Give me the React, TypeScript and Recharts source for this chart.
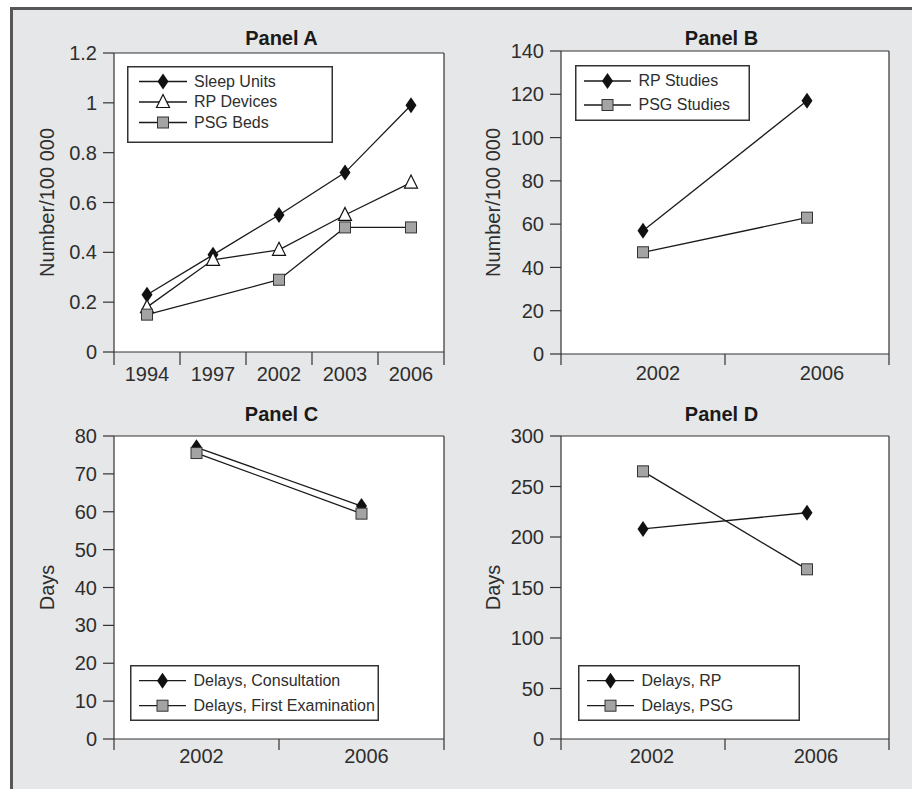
import React from 'react';
import { LineChart, Line, XAxis, YAxis, CartesianGrid, Legend } from 'recharts';

const FONT = '"Liberation Sans", Arial, Helvetica, sans-serif';
const INK = '#1a1a1a';
const TEXT = '#2e2e2e';

// Panel A
const yearsA = ['1994', '1997', '2002', '2003', '2006'];
const sleepUnits = [0.23, 0.39, 0.55, 0.72, 0.99];
const rpDevices = [0.18, 0.37, 0.41, 0.55, 0.68];
const psgBeds = [0.15, null, 0.29, 0.5, 0.5];
const yTicksA = [0, 0.2, 0.4, 0.6, 0.8, 1, 1.2];

// Panel B
const yearsB = ['2002', '2006'];
const rpStudies = [57, 117];
const psgStudies = [47, 63];
const yTicksB = [0, 20, 40, 60, 80, 100, 120, 140];

// Panel C
const yearsC = ['2002', '2006'];
const delaysConsultation = [77, 61.5];
const delaysFirstExam = [75.5, 59.5];
const yTicksC = [0, 10, 20, 30, 40, 50, 60, 70, 80];

// Panel D
const yearsD = ['2002', '2006'];
const delaysRP = [208, 224];
const delaysPSG = [265, 168];
const yTicksD = [0, 50, 100, 150, 200, 250, 300];

type Shape = 'diamond' | 'triangle' | 'square';

const Glyph = ({ shape, cx, cy }: { shape: Shape; cx: number; cy: number }) => {
    if (shape === 'diamond') {
        return <path d={`M${cx},${cy - 8} L${cx + 5.5},${cy} L${cx},${cy + 8} L${cx - 5.5},${cy} Z`} fill="#111" />;
    }
    if (shape === 'triangle') {
        return (
            <path
                d={`M${cx},${cy - 7.5} L${cx + 6.5},${cy + 5.5} L${cx - 6.5},${cy + 5.5} Z`}
                fill="#fff"
                stroke="#111"
                strokeWidth={1.2}
            />
        );
    }
    return <rect x={cx - 5.5} y={cy - 5.5} width={11} height={11} fill="#a4a4a4" stroke="#333" strokeWidth={1} />;
};

const dotFor = (shape: Shape) => (p: any) => {
    if (p.cy == null || p.value == null) return <g key={`d${p.index}`} />;
    return (
        <g key={`d${p.index}`}>
            <Glyph shape={shape} cx={p.cx} cy={p.cy} />
        </g>
    );
};

// category label in the middle of each band, tick marks on the band edges
const BandTick = (props: any) => {
    const { x, payload, index, band, count, axisY, dx, labelY, tickLen } = props;
    const left = x - band / 2;
    return (
        <g>
            <line x1={left} x2={left} y1={axisY} y2={axisY + tickLen} stroke="#333" strokeWidth={1.2} />
            {index === count - 1 && (
                <line x1={left + band} x2={left + band} y1={axisY} y2={axisY + tickLen} stroke="#333" strokeWidth={1.2} />
            )}
            <text x={x + dx} y={axisY + labelY} textAnchor="middle" fontSize={20} fill={TEXT} fontFamily={FONT}>
                {payload.value}
            </text>
        </g>
    );
};

const AxisTitle = ({ title, tx, ty }: any) => (
    <text
        x={tx}
        y={ty}
        transform={`rotate(-90 ${tx} ${ty})`}
        textAnchor="middle"
        fontSize={20}
        fill={TEXT}
        fontFamily={FONT}
    >
        {title}
    </text>
);

const PanelTitle = ({ title, tx, ty }: any) => (
    <text x={tx} y={ty} textAnchor="middle" fontSize={20} fontWeight="bold" fill="#1a1a1a" fontFamily={FONT}>
        {title}
    </text>
);

const LegendBox = ({ items, w, h, rows, lineX0, lineX1, markX, textX }: any) => (
    <svg width={w} height={h} style={{ display: 'block' }}>
        <rect x={0.75} y={0.75} width={w - 1.5} height={h - 1.5} fill="#fff" stroke="#333" strokeWidth={1.5} />
        {items.map((it: any, i: number) => (
            <g key={it.name}>
                <line x1={lineX0} x2={lineX1} y1={rows[i]} y2={rows[i]} stroke={INK} strokeWidth={1.3} />
                <Glyph shape={it.shape} cx={markX} cy={rows[i]} />
                <text x={textX} y={rows[i] + 5} fontSize={16} fill={TEXT} fontFamily={FONT}>
                    {it.name}
                </text>
            </g>
        ))}
    </svg>
);

const panels = [
    {
        key: 'A',
        title: 'Panel A',
        yTitle: 'Number/100 000',
        pos: { left: 0, top: 0, width: 456, height: 395 },
        margin: { top: 53, right: 12, left: 54, bottom: 3 },
        categories: yearsA,
        yTicks: yTicksA,
        series: [
            { name: 'Sleep Units', shape: 'diamond' as Shape, values: sleepUnits },
            { name: 'RP Devices', shape: 'triangle' as Shape, values: rpDevices },
            { name: 'PSG Beds', shape: 'square' as Shape, values: psgBeds },
        ],
        titleX: 281.5, titleY: 45, yTitleX: 54, labelDx: 0, labelY: 29, tickLen: 13,
        legend: { left: 127, top: 66, w: 206, h: 77, rows: [15.5, 36, 56.5], lineX0: 12, lineX1: 60, markX: 36, textX: 67 },
    },
    {
        key: 'B',
        title: 'Panel B',
        yTitle: 'Number/100 000',
        pos: { left: 456, top: 0, width: 457, height: 395 },
        margin: { top: 51, right: 24, left: 45, bottom: 1 },
        categories: yearsB,
        yTicks: yTicksB,
        series: [
            { name: 'RP Studies', shape: 'diamond' as Shape, values: rpStudies },
            { name: 'PSG Studies', shape: 'square' as Shape, values: psgStudies },
        ],
        titleX: 265.5, titleY: 45, yTitleX: 44, labelDx: 15, labelY: 26, tickLen: 11,
        legend: { left: 119, top: 65, w: 175, h: 56, rows: [16, 40], lineX0: 9, lineX1: 56, markX: 32.5, textX: 63.5 },
    },
    {
        key: 'C',
        title: 'Panel C',
        yTitle: 'Days',
        pos: { left: 0, top: 395, width: 456, height: 394 },
        margin: { top: 41, right: 12, left: 54, bottom: 10 },
        categories: yearsC,
        yTicks: yTicksC,
        series: [
            { name: 'Delays, Consultation', shape: 'diamond' as Shape, values: delaysConsultation },
            { name: 'Delays, First Examination', shape: 'square' as Shape, values: delaysFirstExam },
        ],
        titleX: 281.5, titleY: 26, yTitleX: 53.5, labelDx: 5, labelY: 24, tickLen: 11,
        legend: { left: 130, top: 270, w: 249, h: 56, rows: [15.7, 40.7], lineX0: 9, lineX1: 56, markX: 32.5, textX: 63.5 },
    },
    {
        key: 'D',
        title: 'Panel D',
        yTitle: 'Days',
        pos: { left: 456, top: 395, width: 457, height: 394 },
        margin: { top: 41, right: 24, left: 45, bottom: 10 },
        categories: yearsD,
        yTicks: yTicksD,
        series: [
            { name: 'Delays, RP', shape: 'diamond' as Shape, values: delaysRP },
            { name: 'Delays, PSG', shape: 'square' as Shape, values: delaysPSG },
        ],
        titleX: 265.5, titleY: 26, yTitleX: 44, labelDx: 9, labelY: 24, tickLen: 11,
        legend: { left: 122, top: 270, w: 222, h: 56, rows: [15.7, 40.7], lineX0: 9, lineX1: 56, markX: 32.5, textX: 63.5 },
    },
];

const YW = 60;
const XH = 40;

const Panel = ({ p }: { p: (typeof panels)[number] }) => {
    const data = p.categories.map((year, i) => {
        const row: any = { year };
        p.series.forEach((s, j) => {
            row[`s${j}`] = s.values[i];
        });
        return row;
    });
    const plotW = p.pos.width - p.margin.left - p.margin.right - YW;
    const plotH = p.pos.height - p.margin.top - p.margin.bottom - XH;
    const axisY = p.margin.top + plotH;
    const band = plotW / p.categories.length;
    const yMax = p.yTicks[p.yTicks.length - 1];

    return (
        <div style={{ position: 'absolute', left: p.pos.left, top: p.pos.top }}>
            <LineChart width={p.pos.width} height={p.pos.height} data={data} margin={p.margin}>
                {/* white plot area, closed on top and right like the original frame */}
                <CartesianGrid
                    fill="#fff"
                    stroke="#333"
                    strokeWidth={1.2}
                    horizontalCoordinatesGenerator={({ offset }: any) => [offset.top]}
                    verticalCoordinatesGenerator={({ offset }: any) => [offset.left + offset.width]}
                />
                <XAxis
                    dataKey="year"
                    scale="band"
                    interval={0}
                    height={XH}
                    tickSize={0}
                    tickMargin={0}
                    tickLine={false}
                    axisLine={{ stroke: '#333', strokeWidth: 1.2 }}
                    tick={
                        <BandTick
                            band={band}
                            count={p.categories.length}
                            axisY={axisY}
                            dx={p.labelDx}
                            labelY={p.labelY}
                            tickLen={p.tickLen}
                        />
                    }
                    label={<PanelTitle title={p.title} tx={p.titleX} ty={p.titleY} />}
                />
                <YAxis
                    type="number"
                    domain={[0, yMax]}
                    ticks={p.yTicks}
                    interval={0}
                    width={YW}
                    tickSize={11}
                    tickMargin={6}
                    tick={{ fontSize: 20, fill: TEXT, fontFamily: FONT }}
                    tickLine={{ stroke: '#333', strokeWidth: 1.2 }}
                    axisLine={{ stroke: '#333', strokeWidth: 1.2 }}
                    label={<AxisTitle title={p.yTitle} tx={p.yTitleX} ty={p.margin.top + plotH / 2} />}
                />
                {p.series.map((s, j) => (
                    <Line
                        key={s.name}
                        dataKey={`s${j}`}
                        name={s.name}
                        stroke={INK}
                        strokeWidth={1.3}
                        dot={dotFor(s.shape)}
                        activeDot={false}
                        connectNulls
                        isAnimationActive={false}
                    />
                ))}
                <Legend
                    layout="horizontal"
                    verticalAlign="middle"
                    align="center"
                    wrapperStyle={{
                        position: 'absolute',
                        left: p.legend.left,
                        top: p.legend.top,
                        width: p.legend.w,
                        height: p.legend.h,
                        margin: 0,
                        padding: 0,
                    }}
                    content={() => <LegendBox items={p.series} {...p.legend} />}
                />
            </LineChart>
        </div>
    );
};

export default function App() {
    return (
        <div style={{ position: 'absolute', left: 0, top: 0, width: 913, height: 789, background: '#fff', overflow: 'hidden' }}>
            <div
                style={{
                    position: 'absolute',
                    left: 10,
                    top: 7,
                    width: 902,
                    height: 782,
                    boxSizing: 'border-box',
                    borderLeft: '3px solid #575757',
                    borderTop: '3px solid #575757',
                    background: '#e6e7e8',
                }}
            />
            {panels.map((p) => (
                <Panel key={p.key} p={p} />
            ))}
        </div>
    );
}
